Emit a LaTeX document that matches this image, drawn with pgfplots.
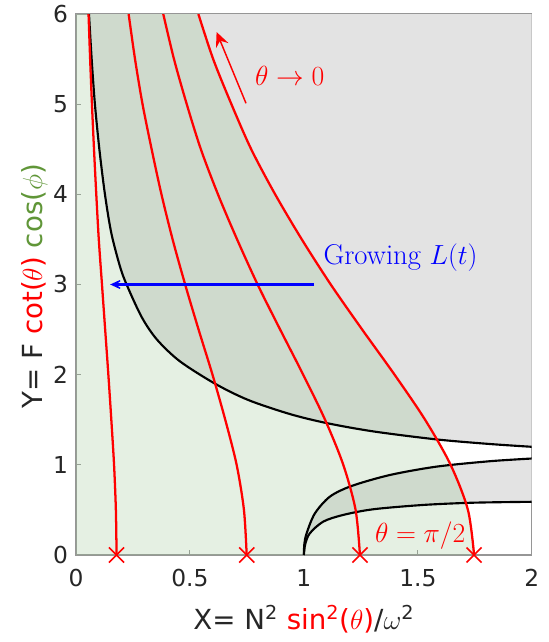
\documentclass[border=0pt]{standalone}
\usepackage{fontspec}
\usepackage{xcolor}
\usepackage{pgfplots}
\pgfplotsset{compat=1.18}
\usepgfplotslibrary{fillbetween}
\usetikzlibrary{arrows.meta}
\newfontfamily\dv{DejaVu Sans}
\definecolor{txtgray}{RGB}{38,38,38}
\definecolor{axgray}{RGB}{150,150,150}
\definecolor{bggray}{RGB}{227,227,227}
\definecolor{lgreen}{RGB}{151,195,143}
\definecolor{cosgreen}{RGB}{96,150,56}

\begin{document}
\begin{tikzpicture}
\begin{axis}[
    at={(0,0)}, anchor=south west,
    scale only axis, width=341.8pt, height=405.75pt,
    xmin=0, xmax=2, ymin=0, ymax=6,
    xtick={0,0.5,1,1.5,2}, ytick={0,1,2,3,4,5,6},
    tick align=inside, major tick length=4pt,
    axis line style={axgray, line width=0.8pt},
    tick style={axgray, line width=0.8pt},
    ticklabel style={font=\dv\fontsize{17.5}{20}\selectfont, text=txtgray,
        /pgf/number format/assume math mode=true},
    xticklabel style={yshift=-7pt},
    yticklabel style={xshift=-2.5pt},
    xlabel={X= N\textsuperscript{2} \textcolor{red}{sin\textsuperscript{2}($\theta$)}/$\omega$\textsuperscript{2}},
    ylabel={Y= F \textcolor{red}{cot($\theta$)} \textcolor{cosgreen}{cos($\phi$)}},
    xlabel style={at={(axis description cs:0.5,-0.1386)}, anchor=base,
        font=\dv\fontsize{20.74}{25}\selectfont, text=txtgray},
    ylabel style={at={(axis description cs:-0.0746,0.497)}, anchor=base,
        font=\dv\fontsize{20.74}{25}\selectfont, text=txtgray},
    set layers,
]
% edges used to close the shaded regions
\addplot[draw=none, name path=lefted, forget plot] coordinates {(0,0) (0,6)};
\addplot[draw=none, name path=toped, forget plot] coordinates {(0,6) (2,6)};

% black boundary curves
\addplot[black, line width=1.6pt, smooth, name path=hyp] coordinates {
    (0.057,6.0) (0.069,5.49) (0.083,5.0) (0.103,4.49) (0.127,4.0) (0.155,3.57)
    (0.193,3.2) (0.222,3.0) (0.288,2.64) (0.355,2.39) (0.455,2.15) (0.610,1.90)
    (0.756,1.719) (0.939,1.563) (1.10,1.463) (1.304,1.371)
    (1.582,1.282) (1.816,1.231) (2.0,1.20)
};
\addplot[black, line width=1.6pt, smooth, name path=lowup] coordinates {
    (1.0,0) (1.002,0.12) (1.012,0.24) (1.048,0.46) (1.114,0.647) (1.209,0.765)
    (1.377,0.887) (1.582,0.98) (1.816,1.04) (2.0,1.07)
};
\addplot[black, line width=1.6pt, smooth, name path=lowlo] coordinates {
    (1.0,0) (1.006,0.12) (1.026,0.24) (1.085,0.37) (1.172,0.444) (1.304,0.507)
    (1.523,0.555) (1.743,0.58) (2.0,0.59)
};

% red curves
\addplot[red, line width=1.7pt, smooth] coordinates {
    (0.178,0) (0.175,0.5) (0.167,1) (0.155,1.5) (0.142,2) (0.128,2.5) (0.114,3)
    (0.100,3.5) (0.089,4) (0.079,4.5) (0.070,5) (0.062,5.5) (0.055,6)
};
\addplot[red, line width=1.7pt, smooth] coordinates {
    (0.749,0) (0.737,0.5) (0.705,1) (0.655,1.5) (0.599,2) (0.538,2.5) (0.479,3)
    (0.424,3.5) (0.375,4) (0.332,4.5) (0.292,5) (0.259,5.5) (0.231,6)
};
\addplot[red, line width=1.7pt, smooth] coordinates {
    (1.246,0) (1.227,0.5) (1.173,1) (1.093,1.5) (0.997,2) (0.896,2.5) (0.797,3)
    (0.707,3.5) (0.623,4) (0.548,4.5) (0.486,5) (0.430,5.5) (0.383,6)
};
\addplot[red, line width=1.7pt, smooth, name path=red4] coordinates {
    (1.747,0) (1.720,0.5) (1.644,1) (1.532,1.5) (1.398,2) (1.256,2.5) (1.118,3)
    (0.991,3.5) (0.874,4) (0.769,4.5) (0.682,5) (0.602,5.5) (0.537,6)
};
\addplot[red, only marks, mark=x, mark size=8pt, line width=1.2pt] coordinates {
    (0.178,0) (0.749,0) (1.246,0) (1.747,0)
};

% shaded regions
\addplot[bggray] fill between[of=hyp and toped];
\addplot[bggray] fill between[of=lowup and lowlo];
\addplot[lgreen, fill opacity=0.25] fill between[of=red4 and lefted, reverse=true];

% arrows and notes
\addplot[blue, line width=2pt, -{Stealth[length=13pt, width=12pt, inset=9pt]}]
    coordinates {(1.045,3.0) (0.15,3.0)};
\addplot[red, line width=1.1pt, -{Stealth[length=11pt, width=10pt, inset=4pt]}]
    coordinates {(0.746,5.01) (0.617,5.80)};
\node[anchor=west, inner sep=0pt, text=red, font=\fontsize{20.74}{25}\selectfont]
    at (axis cs:0.785,5.31) {$\theta\rightarrow 0$};
\node[anchor=west, inner sep=0pt, text=blue, font=\fontsize{21.5}{25}\selectfont]
    at (axis cs:1.085,3.30) {Growing $L(t)$};
\node[anchor=west, inner sep=0pt, text=red, font=\fontsize{20.74}{25}\selectfont]
    at (axis cs:1.311,0.21) {$\theta=\pi/2$};
\end{axis}
\pgfresetboundingbox
\path[use as bounding box] (-57pt,-65.25pt) rectangle (354.75pt,416.25pt);
\end{tikzpicture}
\end{document}
